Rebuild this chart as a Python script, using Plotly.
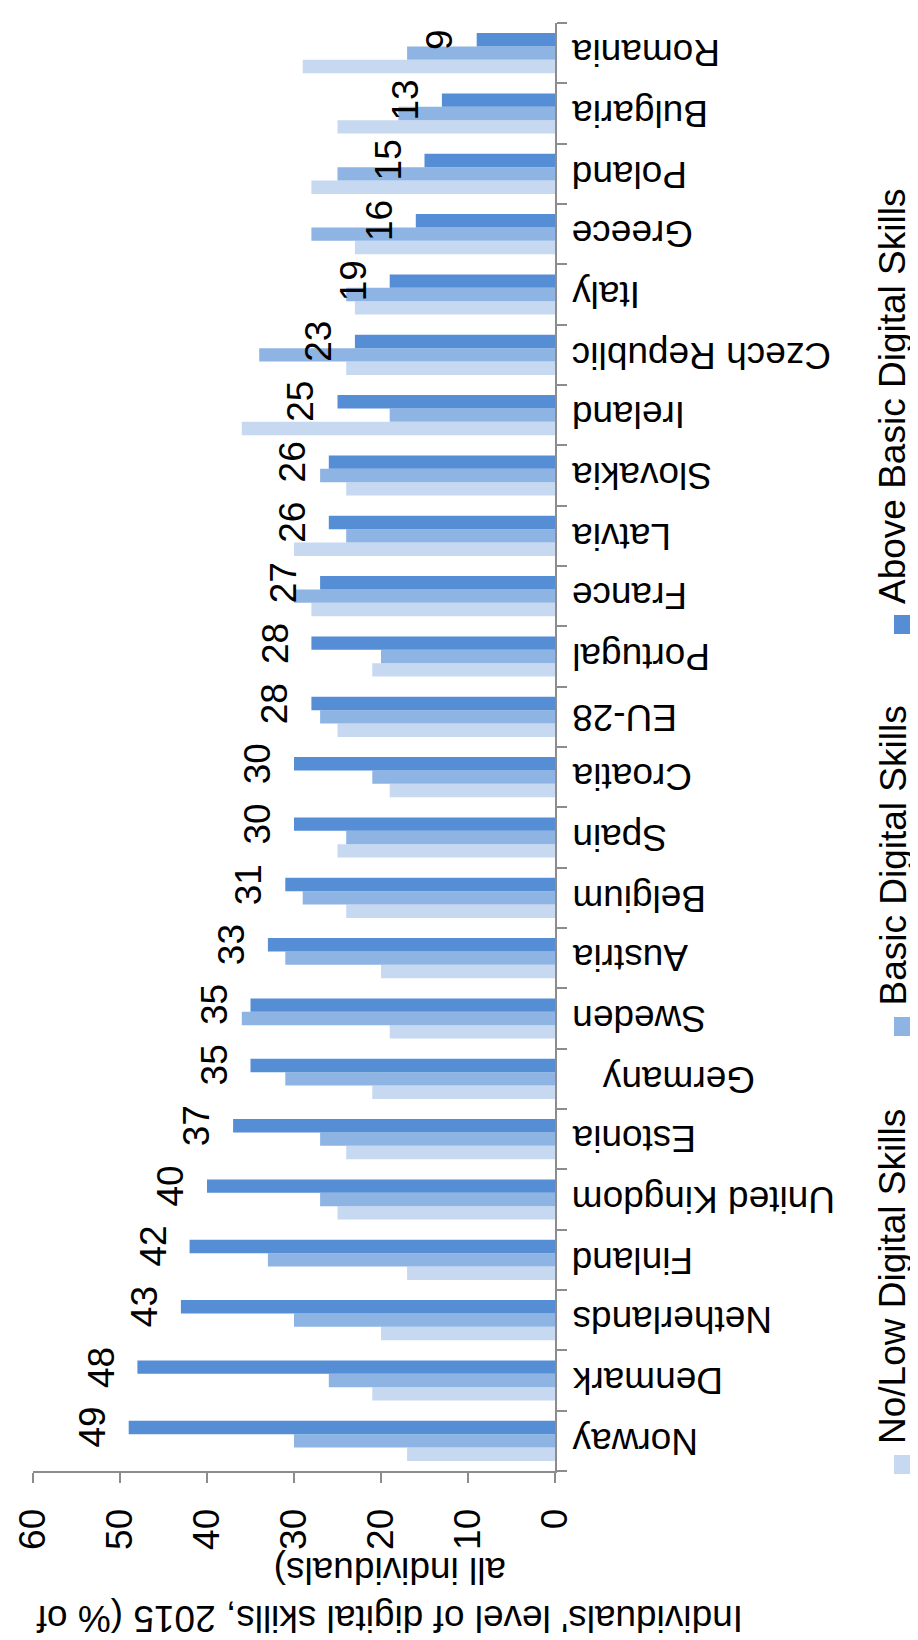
import plotly.graph_objects as go

# ---------------- data ----------------
categories = ["Norway", "Denmark", "Netherlands", "Finland", "United Kingdom", "Estonia",
              "Germany", "Sweden", "Austria", "Belgium", "Spain", "Croatia", "EU-28",
              "Portugal", "France", "Latvia", "Slovakia", "Ireland", "Czech Republic",
              "Italy", "Greece", "Poland", "Bulgaria", "Romania"]
category_labels = ["Norway", "Denmark", "Netherlands", "Finland", "United Kingdom", "Estonia",
                   "Germany\u00a0\u00a0\u00a0", "Sweden", "Austria", "Belgium", "Spain", "Croatia", "EU-28",
                   "Portugal", "France", "Latvia", "Slovakia", "Ireland", "Czech Republic",
                   "Italy", "Greece", "Poland", "Bulgaria", "Romania"]
no_low = [17, 21, 20, 17, 25, 24, 21, 19, 20, 24, 25, 19, 25, 21, 28, 30, 24, 36, 24, 23, 23, 28, 25, 29]
basic = [30, 26, 30, 33, 27, 27, 31, 36, 31, 29, 24, 21, 27, 20, 30, 24, 27, 19, 34, 24, 28, 25, 18, 17]
above = [49, 48, 43, 42, 40, 37, 35, 35, 33, 31, 30, 30, 28, 28, 27, 26, 26, 25, 23, 19, 16, 15, 13, 9]
series_names = ["No/Low Digital Skills", "Basic Digital Skills", "Above Basic Digital Skills"]
x_ticks = [0, 10, 20, 30, 40, 50, 60]
axis_title = "Individuals' level of digital skills, 2015 (% of<br>all individuals)"

# ---------------- style ----------------
FONT = "Liberation Sans, Arial, Helvetica, sans-serif"
FS = 37
COLORS = ["#C6D9F1", "#8EB4E3", "#558ED5"]
AXIS_COLOR = "#8C8C8C"
W, H = 918, 1640
ML, MR, MT, MB = 25, 371, 15, 177
PW, PH = W - ML - MR, H - MT - MB
BARGAP = 0.333
N_SERIES = 3
# pixel offset of the top bar's centre within its category band
TOP_BAR_SHIFT = (1 - BARGAP) / N_SERIES * PH / len(categories)


def px_x(px):
    return (px - ML) / PW


def px_y(py):
    return (H - MB - py) / PH


fig = go.Figure()
for name, vals, col in zip(series_names, [no_low, basic, above], COLORS):
    fig.add_trace(go.Bar(
        y=categories, x=vals, orientation="h", name=name,
        marker=dict(color=col, line=dict(width=0)),
        showlegend=False,
    ))

annotations = []
# value labels for the "Above basic" series (rotated)
for cat, v in zip(categories, above):
    annotations.append(dict(
        xref="x", yref="y", x=v, y=cat, xshift=-14, yshift=TOP_BAR_SHIFT,
        xanchor="right", yanchor="middle", textangle=-90,
        text=str(v), showarrow=False,
        font=dict(family=FONT, size=FS, color="black"),
    ))

# category labels (upside down)
for cat, lab in zip(categories, category_labels):
    annotations.append(dict(
        xref="paper", yref="y", x=1, y=cat, xshift=15,
        xanchor="left", yanchor="middle", textangle=180,
        text=lab, showarrow=False,
        font=dict(family=FONT, size=FS, color="black"),
    ))

# axis title (upside down)
annotations.append(dict(
    xref="paper", yref="paper", x=px_x(382), y=px_y(1587),
    xanchor="center", yanchor="middle", textangle=180,
    text=axis_title, showarrow=False,
    font=dict(family=FONT, size=FS, color="black"),
))

# legend (rotated)
shapes = []
legend_tops = [1447, 1009, 607]
for name, col, top in zip(series_names, COLORS, legend_tops):
    shapes.append(dict(
        type="rect", xref="paper", yref="paper",
        x0=px_x(886), x1=px_x(905), y0=px_y(top + 19), y1=px_y(top),
        fillcolor=col, line=dict(width=0),
    ))
    annotations.append(dict(
        xref="paper", yref="paper", x=px_x(884.5), y=px_y(top - 9),
        xanchor="center", yanchor="bottom", textangle=-90,
        text=name, showarrow=False,
        font=dict(family=FONT, size=FS, color="black"),
    ))

fig.update_layout(
    width=W, height=H,
    margin=dict(l=ML, r=MR, t=MT, b=MB, autoexpand=False),
    plot_bgcolor="white", paper_bgcolor="white",
    barmode="group", bargap=BARGAP, bargroupgap=0,
    showlegend=False,
    font=dict(family=FONT, size=FS, color="black"),
    annotations=annotations,
    shapes=shapes,
    xaxis=dict(
        range=[60, 0], tickvals=x_ticks, ticktext=[str(t) for t in x_ticks],
        tickangle=-90, ticks="outside", ticklen=10, tickwidth=2, tickcolor=AXIS_COLOR,
        showline=True, linecolor=AXIS_COLOR, linewidth=2,
        showgrid=False, zeroline=False,
        tickfont=dict(family=FONT, size=FS, color="black"),
        ticklabelstandoff=11,
    ),
    yaxis=dict(
        type="category", categoryorder="array", categoryarray=categories,
        range=[-0.5, len(categories) - 0.5],
        side="right", ticks="outside", tickson="boundaries", ticklen=10, tickwidth=2,
        tickcolor=AXIS_COLOR, showticklabels=False,
        showline=True, linecolor=AXIS_COLOR, linewidth=2,
        showgrid=False, zeroline=False,
    ),
)

fig.write_html("out.html")
